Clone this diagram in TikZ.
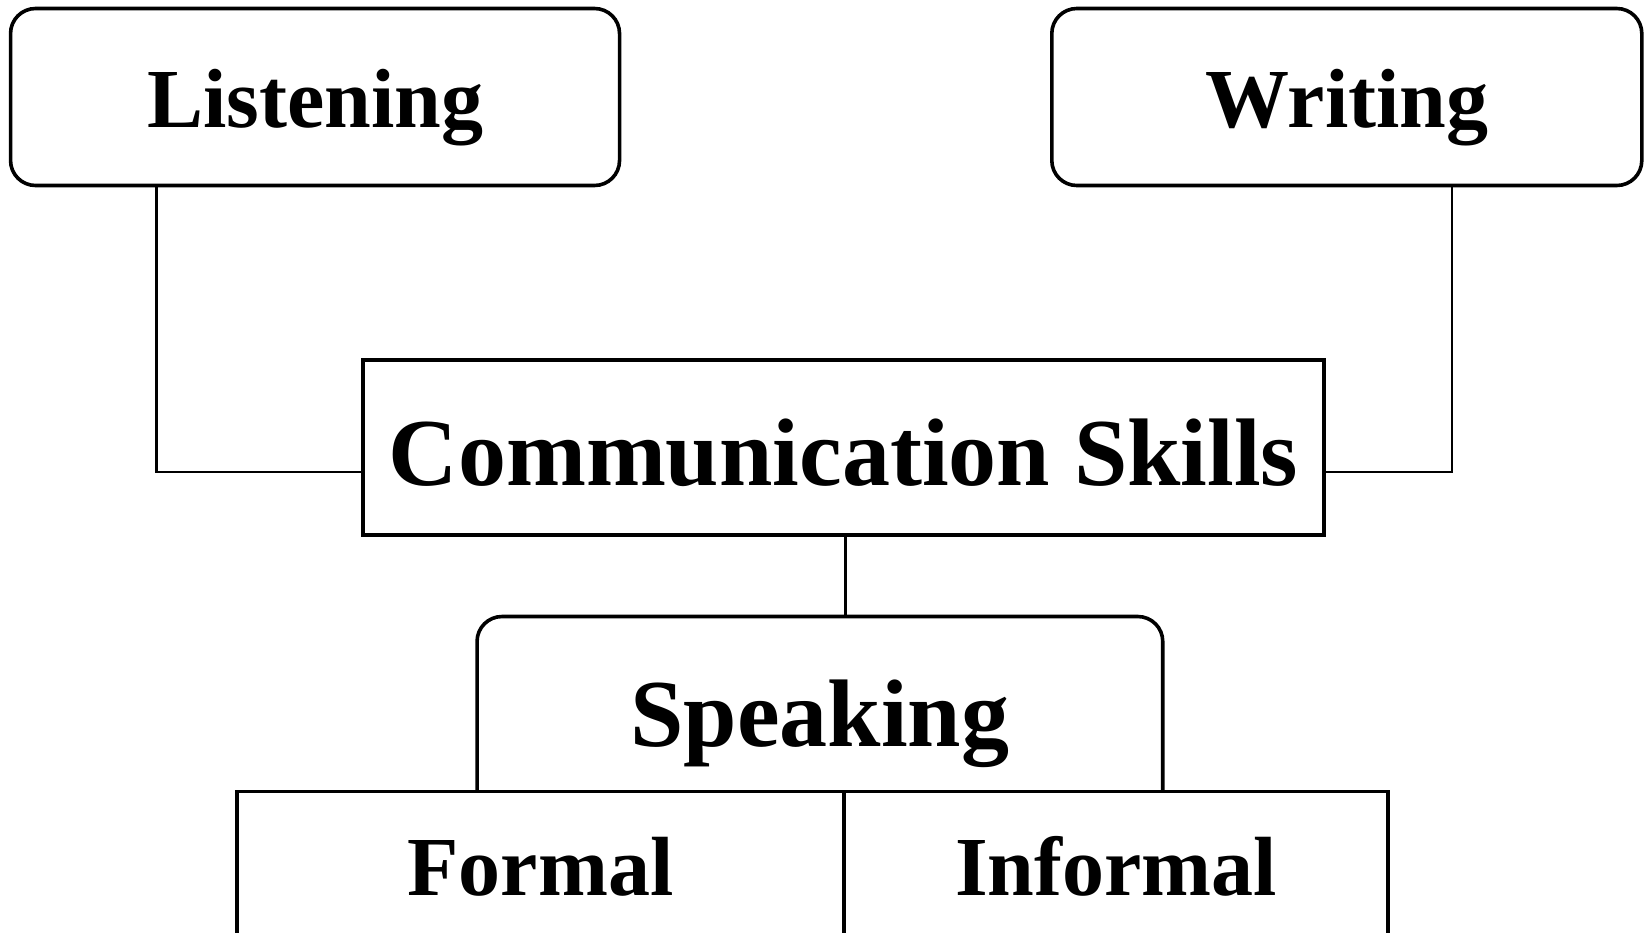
\documentclass[tikz,border=0pt]{standalone}
\usepackage{fontspec}
\setmainfont{Liberation Serif}
\begin{document}
\begin{tikzpicture}[x=1pt,y=-1pt,
  boxline/.style={draw=black, line width=3.6pt},
  box/.style={boxline, inner sep=0pt, outer sep=0pt, text depth=0pt, align=center},
  smallfont/.style={font=\fontsize{84}{90}\selectfont\bfseries},
  bigfont/.style={font=\fontsize{96}{104}\selectfont\bfseries},
  conn/.style={draw=black, line width=2.6pt}]
\useasboundingbox (0,0) rectangle (1644,932);
\clip (0,0) rectangle (1644,932);

\node[box, smallfont, rounded corners=25pt, minimum width=609pt, minimum height=177pt, text height=61pt]
  (lis) at (315.05,97) {Listening};
\node[box, smallfont, rounded corners=25pt, minimum width=590pt, minimum height=177pt, text height=61pt]
  (wri) at (1346.8,97) {Writing};
\node[box, bigfont, minimum width=961.4pt, minimum height=175pt, text height=76pt]
  (com) at (843.5,447.2) {Communication Skills};
\node[box, bigfont, draw=none, minimum width=685.7pt, minimum height=175pt, text height=85pt]
  (spk) at (819.9,704) {Speaking};
\draw[boxline, rounded corners=25pt] (spk.south west) -- (spk.north west) -- (spk.north east) -- (spk.south east);
\node[box, smallfont, minimum width=607pt, minimum height=168pt, text height=39pt]
  (for) at (540.5,875.6) {Formal};
\node[box, smallfont, minimum width=544pt, minimum height=168pt, text height=39pt]
  (inf) at (1116,875.6) {Informal};

\draw[conn] ([xshift=-158.85pt]lis.south) |- ([yshift=-24.8pt]com.west);
\draw[conn] ([xshift=105.2pt]wri.south) |- ([yshift=-24.8pt]com.east);
\coordinate (cs) at ([xshift=2pt]com.south);
\draw[conn] (cs) -- (cs |- spk.north);
\end{tikzpicture}
\end{document}
